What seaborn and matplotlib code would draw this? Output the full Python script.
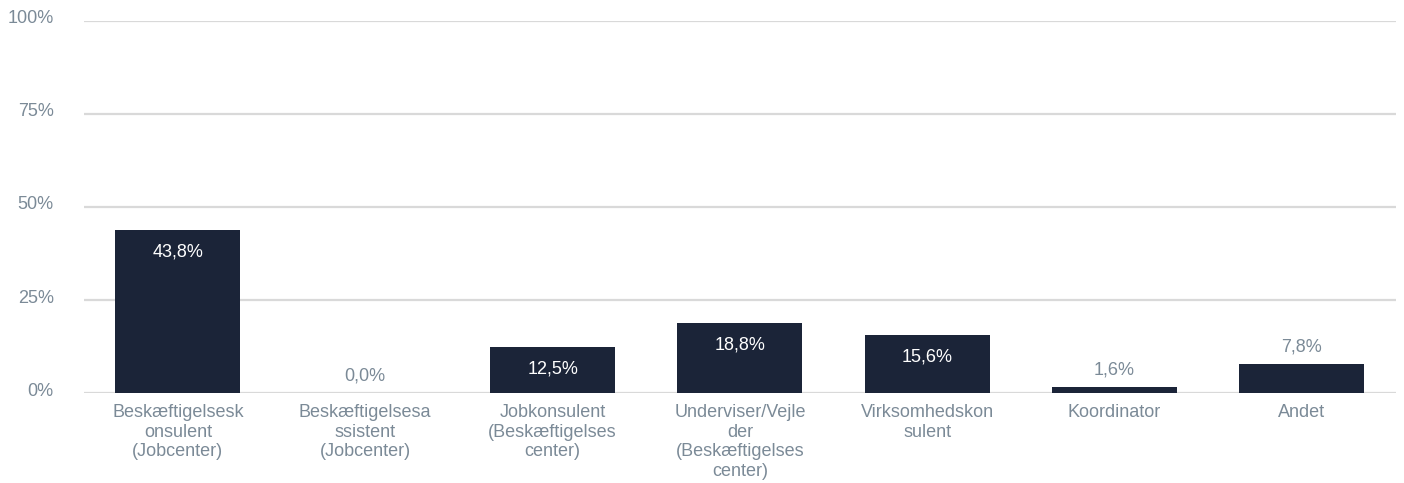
import matplotlib
matplotlib.use("Agg")
import matplotlib.pyplot as plt
import matplotlib.transforms as mtransforms
import seaborn as sns
import pandas as pd

categories = [
    "Beskæftigelsesk\nonsulent\n(Jobcenter)",
    "Beskæftigelsesa\nssistent\n(Jobcenter)",
    "Jobkonsulent\n(Beskæftigelses\ncenter)",
    "Underviser/Vejle\nder\n(Beskæftigelses\ncenter)",
    "Virksomhedskon\nsulent",
    "Koordinator",
    "Andet",
]
values = [43.8, 0.0, 12.5, 18.8, 15.6, 1.6, 7.8]
y_ticks = [0, 25, 50, 75, 100]

df = pd.DataFrame({"category": categories, "value": values})

sns.set_theme(style="white")
plt.rcParams['font.family'] = ['Liberation Sans', 'DejaVu Sans']

bar_color = "#1b2438"
text_grey = "#7b8a97"
grid_grey = "#d9d9d9"

fig, ax = plt.subplots(figsize=(14.04, 4.83), dpi=100)
fig.subplots_adjust(left=0.06, right=0.994, top=0.957, bottom=0.186)

sns.barplot(data=df, x="category", y="value", color=bar_color, width=0.667,
            saturation=1, linewidth=0, ax=ax)

ax.set_ylim(0, 100)
ax.set_yticks(y_ticks)
ax.set_yticklabels([f"{t}%" for t in y_ticks])
for t in y_ticks:
    ax.axhline(t, color=grid_grey, lw=1.6, zorder=0)

for i, v in enumerate(values):
    label = f"{v:.1f}%".replace(".", ",")
    if v > 10:
        ax.annotate(label, (i, v), xytext=(0, -22), textcoords="offset pixels",
                    ha="center", va="center", color="white", fontsize=13)
    else:
        ax.annotate(label, (i, v), xytext=(0, 17), textcoords="offset pixels",
                    ha="center", va="center", color=text_grey, fontsize=13)

ax.set_xlabel("")
ax.set_ylabel("")
ax.tick_params(axis="y", length=0, pad=22, labelsize=13, labelcolor=text_grey)
ax.tick_params(axis="x", length=0, pad=8, labelsize=13, labelcolor=text_grey)
shift = mtransforms.ScaledTranslation(0, 4 / 100, fig.dpi_scale_trans)
for lbl in ax.get_yticklabels():
    lbl.set_verticalalignment("center_baseline")
    lbl.set_transform(lbl.get_transform() + shift)
for lbl in ax.get_xticklabels():
    lbl.set_linespacing(1.2)
sns.despine(ax=ax, left=True, bottom=True)

plt.savefig("out.png", dpi=100)
